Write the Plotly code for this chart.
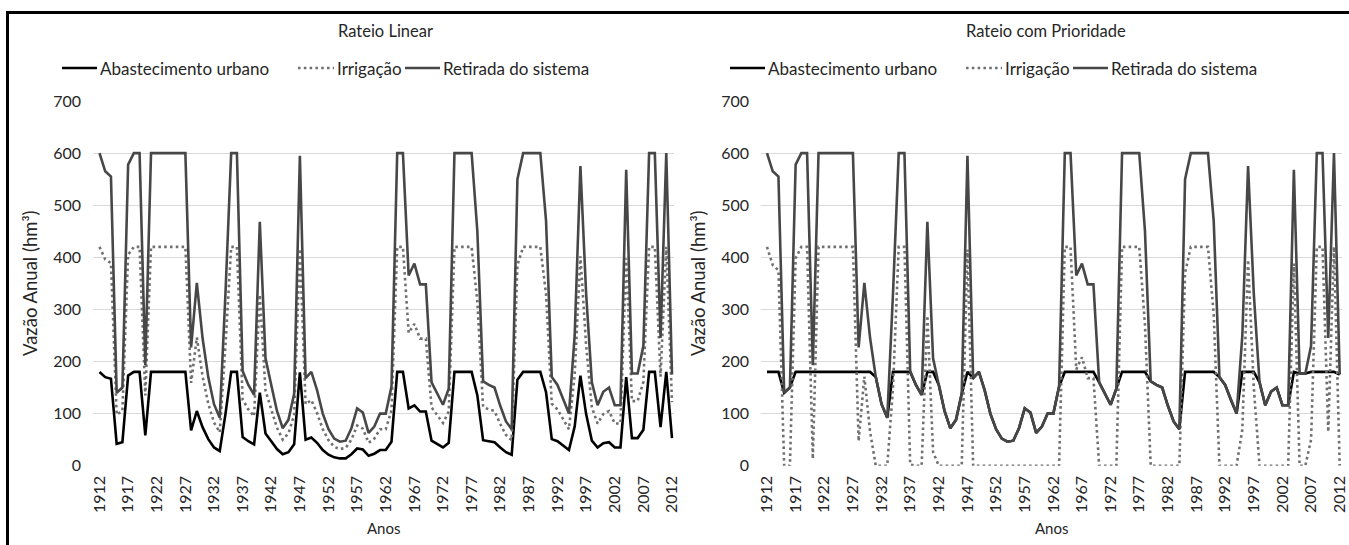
import plotly.graph_objects as go

W, H = 1349, 545

years = list(range(1912, 2013))
tick_years = list(range(1912, 2013, 5))
tick_text = [str(y) for y in tick_years]
y_ticks = [0, 100, 200, 300, 400, 500, 600, 700]
series_names = ["Abastecimento urbano", "Irrigação", "Retirada do sistema"]
panel_titles = ["Rateio Linear", "Rateio com Prioridade"]

# Retirada do sistema (same in both panels)
retirada = [600, 565, 555, 140, 150, 578, 600, 600, 193, 600,
            600, 600, 600, 600, 600, 600, 227, 351, 245, 170,
            118, 92, 330, 600, 600, 182, 155, 136, 468, 206,
            155, 105, 72, 88, 138, 595, 168, 180, 145, 100,
            70, 52, 46, 48, 72, 110, 102, 63, 75, 100,
            100, 152, 600, 600, 365, 388, 348, 348, 160, 138,
            117, 148, 600, 600, 600, 600, 450, 162, 155, 150,
            115, 85, 70, 550, 600, 600, 600, 600, 470, 170,
            155, 126, 100, 250, 575, 330, 160, 116, 142, 150,
            116, 116, 568, 177, 177, 230, 600, 600, 245, 600,
            175]

# Rateio Linear
urbano_linear = [180, 170, 167, 42, 45, 173, 180, 180, 58, 180,
                 180, 180, 180, 180, 180, 180, 68, 105, 74, 51,
                 35, 28, 99, 180, 180, 55, 47, 41, 140, 62,
                 47, 32, 22, 26, 41, 179, 50, 54, 44, 30,
                 21, 16, 14, 14, 22, 33, 31, 19, 23, 30,
                 30, 46, 180, 180, 110, 116, 104, 104, 48, 41,
                 35, 44, 180, 180, 180, 180, 135, 49, 47, 45,
                 35, 26, 21, 165, 180, 180, 180, 180, 141, 51,
                 47, 38, 30, 75, 173, 99, 48, 35, 43, 45,
                 35, 35, 170, 53, 53, 69, 180, 180, 74, 180,
                 53]
irrigacao_linear = [420, 396, 389, 98, 105, 405, 420, 420, 135, 420,
                    420, 420, 420, 420, 420, 420, 159, 246, 172, 119,
                    83, 64, 231, 420, 420, 127, 108, 95, 328, 144,
                    108, 73, 50, 62, 97, 416, 118, 126, 101, 70,
                    49, 36, 32, 34, 50, 77, 71, 44, 52, 70,
                    70, 106, 420, 420, 255, 272, 244, 244, 112, 97,
                    82, 104, 420, 420, 420, 420, 315, 113, 108, 105,
                    80, 59, 49, 385, 420, 420, 420, 420, 329, 119,
                    108, 88, 70, 175, 402, 231, 112, 81, 99, 105,
                    81, 81, 398, 124, 124, 161, 420, 420, 171, 420,
                    122]

# Rateio com Prioridade
urbano_prioridade = [180, 180, 180, 140, 150, 180, 180, 180, 180, 180,
                     180, 180, 180, 180, 180, 180, 180, 180, 180, 170,
                     118, 92, 180, 180, 180, 180, 155, 136, 180, 180,
                     155, 105, 72, 88, 138, 180, 168, 180, 145, 100,
                     70, 52, 46, 48, 72, 110, 102, 63, 75, 100,
                     100, 152, 180, 180, 180, 180, 180, 180, 160, 138,
                     117, 148, 180, 180, 180, 180, 180, 162, 155, 150,
                     115, 85, 70, 180, 180, 180, 180, 180, 180, 170,
                     155, 126, 100, 180, 180, 180, 160, 116, 142, 150,
                     116, 116, 180, 177, 177, 180, 180, 180, 180, 180,
                     175]
irrigacao_prioridade = [420, 385, 375, 0, 0, 398, 420, 420, 13, 420,
                        420, 420, 420, 420, 420, 420, 47, 171, 65, 0,
                        0, 0, 150, 420, 420, 2, 0, 0, 288, 26,
                        0, 0, 0, 0, 0, 415, 0, 0, 0, 0,
                        0, 0, 0, 0, 0, 0, 0, 0, 0, 0,
                        0, 0, 420, 420, 185, 208, 168, 168, 0, 0,
                        0, 0, 420, 420, 420, 420, 270, 0, 0, 0,
                        0, 0, 0, 370, 420, 420, 420, 420, 290, 0,
                        0, 0, 0, 70, 395, 150, 0, 0, 0, 0,
                        0, 0, 388, 0, 0, 50, 420, 420, 65, 420,
                        0]

FONT = "Lato, 'Open Sans', sans-serif"
TXT = "#262626"
C_URB = "#000000"
C_IRR = "#707070"
C_RET = "#474747"
LW = 2.6
DOT = "2.6px,3.2px"


def px_x(p):
    return p / W


def px_y(p):
    return 1 - p / H


fig = go.Figure()

panels = [
    dict(xa="x", ya="y", urb=urbano_linear, irr=irrigacao_linear),
    dict(xa="x2", ya="y2", urb=urbano_prioridade, irr=irrigacao_prioridade),
]
for p in panels:
    fig.add_trace(go.Scatter(x=years, y=p["urb"], name=series_names[0], mode="lines",
                             line=dict(color=C_URB, width=LW), showlegend=False,
                             xaxis=p["xa"], yaxis=p["ya"]))
    fig.add_trace(go.Scatter(x=years, y=p["irr"], name=series_names[1], mode="lines",
                             line=dict(color=C_IRR, width=LW, dash=DOT), showlegend=False,
                             xaxis=p["xa"], yaxis=p["ya"]))
    fig.add_trace(go.Scatter(x=years, y=retirada, name=series_names[2], mode="lines",
                             line=dict(color=C_RET, width=LW), showlegend=False,
                             xaxis=p["xa"], yaxis=p["ya"]))

# plot area pixel boxes
left_box = (93, 674)
right_box = (761, 1342)
top_px, bot_px = 101, 465.7
xr_left = [1912 - (99.5 - 93) / 5.725, 2012 + (674 - 672) / 5.725]
xr_right = [1912 - (767 - 761) / 5.727, 2012 + (1342 - 1339.7) / 5.727]

axis_common_x = dict(tickmode="array", tickvals=tick_years, ticktext=tick_text, tickangle=-90,
                     showgrid=False, zeroline=False, showline=False, ticks="",
                     tickfont=dict(family=FONT, size=16, color=TXT), automargin=False,
                     ticklabelstandoff=6, ticklabeloverflow="allow")
axis_common_y = dict(range=[0, 700], tickmode="array", tickvals=y_ticks, showgrid=True,
                     gridcolor="#d9d9d9", gridwidth=1, zeroline=False, showline=False, ticks="",
                     tickfont=dict(family=FONT, size=16, color=TXT), automargin=False,
                     ticklabelstandoff=11, ticklabeloverflow="allow")

fig.update_layout(
    width=W, height=H,
    margin=dict(l=0, r=0, t=0, b=0),
    paper_bgcolor="white", plot_bgcolor="white",
    font=dict(family=FONT, color=TXT),
    showlegend=False,
    xaxis=dict(domain=[px_x(left_box[0]), px_x(left_box[1])], range=xr_left, anchor="y", **axis_common_x),
    yaxis=dict(domain=[px_y(bot_px), px_y(top_px)], anchor="x", **axis_common_y),
    xaxis2=dict(domain=[px_x(right_box[0]), px_x(right_box[1])], range=xr_right, anchor="y2", **axis_common_x),
    yaxis2=dict(domain=[px_y(bot_px), px_y(top_px)], anchor="x2", **axis_common_y),
)

for off, title, title_c in ((0, panel_titles[0], 385), (668, panel_titles[1], 1046)):
    fig.add_annotation(text=title, x=px_x(title_c), y=px_y(31), xref="paper", yref="paper",
                       xanchor="center", yanchor="middle", showarrow=False,
                       font=dict(family=FONT, size=16.5, color=TXT))
    fig.add_annotation(text="Anos", x=px_x(384 + off), y=px_y(528), xref="paper", yref="paper",
                       xanchor="center", yanchor="middle", showarrow=False,
                       font=dict(family=FONT, size=15, color=TXT))
    fig.add_annotation(text="Vazão Anual (hm³)", x=px_x(30 + off), y=px_y(283), xref="paper",
                       yref="paper", xanchor="center", yanchor="middle", showarrow=False,
                       textangle=-90, font=dict(family=FONT, size=18.5, color=TXT))
    # legend (line samples + text)
    ly = px_y(68)
    items = [(62, 97, C_URB, "solid", series_names[0]),
             (298, 334, C_IRR, DOT, series_names[1]),
             (405, 440, C_RET, "solid", series_names[2])]
    for x0, x1, col, dash, name in items:
        fig.add_shape(type="line", xref="paper", yref="paper",
                      x0=px_x(x0 + off), x1=px_x(x1 + off), y0=ly, y1=ly,
                      line=dict(color=col, width=LW, dash=dash))
        fig.add_annotation(text=name, x=px_x(x1 + 1 + off), y=ly, xref="paper", yref="paper",
                           xanchor="left", yanchor="middle", showarrow=False,
                           font=dict(family=FONT, size=17, color=TXT))

# outer frame (left and top edges visible)
fig.add_shape(type="line", xref="paper", yref="paper", x0=px_x(7.5), x1=px_x(7.5), y0=0, y1=px_y(11),
              line=dict(color="#000000", width=3))
fig.add_shape(type="line", xref="paper", yref="paper", x0=px_x(6), x1=1, y0=px_y(12.5), y1=px_y(12.5),
              line=dict(color="#000000", width=3))

fig.write_html("out.html")
